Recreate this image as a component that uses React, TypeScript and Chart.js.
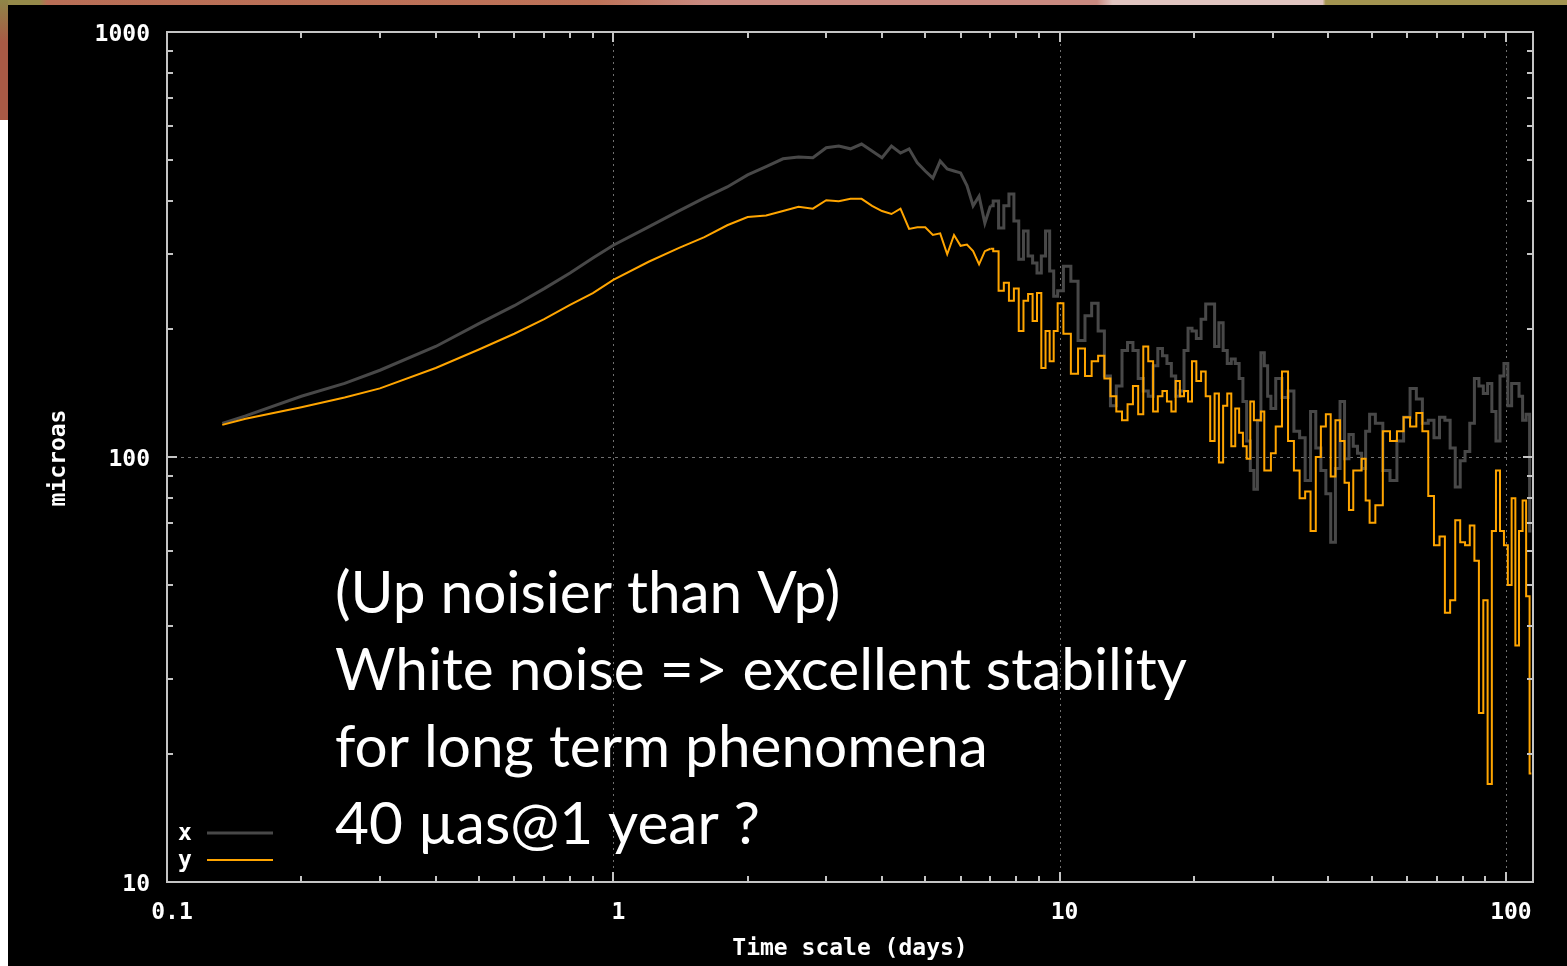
import { useEffect, useRef } from "react";
import { Chart, registerables } from "chart.js";

Chart.register(...registerables);

// Averaging time scale (days) shared by both series
const timeScaleDays = [
  0.133, 0.15, 0.2, 0.25, 0.3, 0.4, 0.5, 0.6, 0.7, 0.8, 0.9, 1.0, 1.2, 1.4, 1.6, 1.8, 2.0,
  2.2, 2.4, 2.6, 2.8, 3.0, 3.2, 3.4, 3.6, 3.8, 4.0, 4.2, 4.4, 4.6, 4.8, 5.0, 5.2, 5.4, 5.6, 5.8, 6.0,
  6.2, 6.4, 6.6, 6.8, 7.0, 7.2, 7.4, 7.6, 7.8, 8.0, 8.2, 8.4, 8.6, 8.8, 9.0, 9.2, 9.4, 9.6, 9.8, 10,
  10.4, 10.8, 11.2, 11.6, 12.0, 12.4, 12.8, 13.2, 13.6, 14.0, 14.4, 14.8, 15.2, 15.6, 16.0, 16.4,
  16.8, 17.2, 17.6, 18.0, 18.4, 18.8, 19.2, 19.6, 20,
  20.5, 21, 21.5, 22, 22.5, 23, 23.5, 24, 24.5, 25, 25.5, 26, 26.5, 27, 27.5, 28, 28.5, 29, 29.5, 30,
  31, 32, 33, 34, 35, 36, 37, 38, 39, 40, 41, 42, 43, 44, 45, 46, 47, 48, 49, 50,
  52, 54, 56, 58, 60, 62, 64, 66, 68, 70, 72, 74, 76, 78, 80, 82, 84, 86, 88, 90, 92, 94, 96, 98,
  100, 102, 104, 106, 108, 110, 112, 114,
];

// Allan-type deviation of the x component (microarcseconds)
const xMicroas = [
  120, 125, 139, 149, 160, 182, 206, 227, 249, 271, 294, 315, 348, 379, 407, 432, 461,
  482, 503, 508, 506, 534, 539, 531, 545, 525, 506, 539, 519, 531, 492, 471, 453, 497, 476, 471, 466,
  435, 390, 411, 355, 390, 400, 346, 390, 416, 359, 292, 340, 297, 286, 271, 297, 340, 274, 239, 246,
  281, 259, 188, 215, 230, 198, 155, 132, 147, 178, 186, 178, 153, 143, 139, 164,
  180, 173, 166, 155, 139, 143, 178, 201, 198,
  190, 211, 229, 229, 182, 207, 178, 166, 170, 166, 153, 135, 109, 93, 84, 122, 176, 164, 139, 130,
  153, 138, 143, 115, 111, 88, 128, 105, 93, 82, 63, 94, 135, 99, 113, 106, 102, 94, 115, 126,
  120, 93, 88, 109, 124, 145, 137, 120, 122, 111, 124, 122, 105, 85, 98, 103, 120, 153, 147, 141, 149, 128, 109, 155,
  166, 132, 149, 149, 139, 122, 126, 67,
];

// Allan-type deviation of the y component (microarcseconds)
const yMicroas = [
  119, 123, 131, 138, 145, 162, 179, 195, 211, 228, 243, 261, 288, 310, 329, 351, 367,
  370, 379, 388, 384, 402, 400, 405, 405, 390, 379, 373, 384, 344, 347, 347, 333, 336, 300, 333, 314,
  316, 305, 284, 305, 309, 305, 246, 257, 233, 249, 198, 233, 242, 209, 243, 162, 198, 168, 198, 230,
  195, 157, 180, 155, 168, 173, 153, 139, 128, 122, 133, 147, 126, 182, 168, 128,
  139, 143, 135, 128, 151, 139, 143, 135, 168,
  151, 159, 139, 109, 141, 97, 132, 141, 106, 130, 114, 106, 99, 135, 122, 122, 128, 93, 93, 102,
  118, 159, 109, 93, 80, 83, 67, 100, 118, 126, 90, 122, 109, 87, 75, 93, 93, 99, 79, 70,
  77, 115, 109, 115, 124, 118, 127, 115, 81, 62, 65, 43, 46, 71, 63, 62, 69, 57, 25, 46, 17, 67, 93, 67,
  62, 50, 80, 36, 67, 79, 47, 18,
];

// Beyond this time scale the curves are drawn as steps
const stepFromDays = 7.0;

const seriesNames = ["x", "y"];
const seriesColors = ["#484848", "#ffa500"];
const seriesWidths = [3, 2];

const xRange = [0.1, 115];
const yRange = [10, 1000];
const xTickValues = [0.1, 1, 10, 100];
const xTickLabels = ["0.1", "1", "10", "100"];
const yTickValues = [10, 100, 1000];
const yTickLabels = ["10", "100", "1000"];
const minorMultipliers = [2, 3, 4, 5, 6, 7, 8, 9];

const xAxisTitle = "Time scale (days)";
const yAxisTitle = "microas";

const noteLines = [
  "(Up noisier than Vp)",
  "White noise => excellent stability",
  "for long term phenomena",
  "40 µas@1 year ?",
];

const MONO = 'bold 23px "DejaVu Sans Mono", "Liberation Mono", monospace';
const FRAME_COLOR = "#c4c4c4";
const GRID_COLOR = "#707070";
const TEXT_COLOR = "#ffffff";

function minorValues(majors: number[], max: number): number[] {
  const out: number[] = [];
  for (const m of majors) {
    for (const k of minorMultipliers) {
      const v = m * k;
      if (v < max) out.push(v);
    }
  }
  return out;
}

const gnuplotFrame = {
  id: "gnuplotFrame",
  beforeDatasetsDraw(chart: any) {
    const { ctx, chartArea: a, scales } = chart;
    ctx.save();
    ctx.strokeStyle = GRID_COLOR;
    ctx.lineWidth = 1;
    ctx.setLineDash([2, 4]);
    for (const v of xTickValues) {
      if (v <= xRange[0] || v >= xRange[1]) continue;
      const px = Math.round(scales.x.getPixelForValue(v)) + 0.5;
      ctx.beginPath();
      ctx.moveTo(px, a.top);
      ctx.lineTo(px, a.bottom);
      ctx.stroke();
    }
    ctx.setLineDash([3, 4]);
    for (const v of yTickValues) {
      if (v <= yRange[0] || v >= yRange[1]) continue;
      const py = Math.round(scales.y.getPixelForValue(v)) + 0.5;
      ctx.beginPath();
      ctx.moveTo(a.left, py);
      ctx.lineTo(a.right, py);
      ctx.stroke();
    }
    ctx.restore();
  },
  afterDatasetsDraw(chart: any) {
    const { ctx, chartArea: a, scales } = chart;
    ctx.save();

    // frame
    ctx.strokeStyle = FRAME_COLOR;
    ctx.lineWidth = 2;
    ctx.setLineDash([]);
    ctx.strokeRect(a.left, a.top, a.right - a.left, a.bottom - a.top);

    // inward ticks on all four sides
    const MAJOR = 10;
    const MINOR = 6;
    const tick = (x1: number, y1: number, x2: number, y2: number) => {
      ctx.beginPath();
      ctx.moveTo(x1, y1);
      ctx.lineTo(x2, y2);
      ctx.stroke();
    };
    const xMinor = minorValues(xTickValues, xRange[1]);
    const yMinor = minorValues(yTickValues, yRange[1]);
    for (const [vals, len] of [[xTickValues, MAJOR], [xMinor, MINOR]] as [number[], number][]) {
      for (const v of vals) {
        if (v < xRange[0] || v > xRange[1]) continue;
        const px = Math.round(scales.x.getPixelForValue(v));
        tick(px, a.bottom, px, a.bottom - len);
        tick(px, a.top, px, a.top + len);
      }
    }
    for (const [vals, len] of [[yTickValues, MAJOR], [yMinor, MINOR]] as [number[], number][]) {
      for (const v of vals) {
        if (v < yRange[0] || v > yRange[1]) continue;
        const py = Math.round(scales.y.getPixelForValue(v));
        tick(a.left, py, a.left + len, py);
        tick(a.right, py, a.right - len, py);
      }
    }

    // tick labels
    ctx.fillStyle = TEXT_COLOR;
    ctx.font = MONO;
    ctx.textBaseline = "alphabetic";
    ctx.textAlign = "right";
    yTickValues.forEach((v, i) => {
      const py = scales.y.getPixelForValue(v);
      ctx.fillText(yTickLabels[i], a.left - 17, py + 9);
    });
    ctx.textAlign = "center";
    xTickValues.forEach((v, i) => {
      const px = scales.x.getPixelForValue(v);
      ctx.fillText(xTickLabels[i], px + 5, a.bottom + 37);
    });

    // axis titles
    ctx.fillText(xAxisTitle, (a.left + a.right) / 2, a.bottom + 73);
    ctx.save();
    ctx.translate(65, (a.top + a.bottom) / 2 + 1);
    ctx.rotate(-Math.PI / 2);
    ctx.textAlign = "center";
    ctx.fillText(yAxisTitle, 0, 0);
    ctx.restore();

    // key in the lower-left corner
    ctx.textAlign = "center";
    seriesNames.forEach((name, i) => {
      const yk = a.bottom - 49 + i * 27;
      ctx.fillStyle = TEXT_COLOR;
      ctx.fillText(name, a.left + 18, yk + 7);
      ctx.strokeStyle = seriesColors[i];
      ctx.lineWidth = seriesWidths[i];
      tick(a.left + 40, yk, a.left + 106, yk);
    });

    // annotation
    ctx.font = '100px Lato, "Open Sans", sans-serif';
    const widest = Math.max(...noteLines.map((s) => ctx.measureText(s).width));
    const size = (100 * 852) / widest;
    ctx.font = `${size.toFixed(1)}px Lato, "Open Sans", sans-serif`;
    ctx.textAlign = "left";
    ctx.fillStyle = TEXT_COLOR;
    noteLines.forEach((line, i) => {
      ctx.fillText(line, 335, 613 + i * 77);
    });

    ctx.restore();
  },
};

export default function App() {
  const canvasRef = useRef<HTMLCanvasElement>(null);

  useEffect(() => {
    const canvas = canvasRef.current;
    if (!canvas) return;
    const series = [xMicroas, yMicroas];
    const splitIndex = timeScaleDays.findIndex((t) => t >= stepFromDays);
    const datasets: any[] = [];
    series.forEach((vals, i) => {
      const points = timeScaleDays.map((t, j) => ({ x: t, y: vals[j] }));
      const common = {
        label: seriesNames[i],
        borderColor: seriesColors[i],
        borderWidth: seriesWidths[i],
        pointRadius: 0,
        tension: 0,
        fill: false,
        order: i === 0 ? 1 : 0,
      };
      // smooth rise, drawn as a polyline
      datasets.push({ ...common, data: points.slice(0, splitIndex + 1) });
      // noisy tail, drawn as steps
      datasets.push({ ...common, data: points.slice(splitIndex), stepped: "middle" });
    });
    const chart = new Chart(canvas, {
      type: "line",
      data: { datasets },
      options: {
        responsive: false,
        animation: false,
        events: [],
        layout: { padding: { left: 167, top: 32, right: 34, bottom: 84 } },
        scales: {
          x: { type: "logarithmic", min: xRange[0], max: xRange[1], display: false },
          y: { type: "logarithmic", min: yRange[0], max: yRange[1], display: false },
        },
        plugins: {
          legend: { display: false },
          tooltip: { enabled: false },
          title: { display: false },
        },
      },
      plugins: [gnuplotFrame],
    } as any);
    return () => chart.destroy();
  }, []);

  return (
    <div
      style={{
        position: "absolute",
        left: 0,
        top: 0,
        width: 1567,
        height: 966,
        overflow: "hidden",
        background: "#ffffff",
      }}
    >
      <div
        style={{
          position: "absolute",
          left: 0,
          top: 0,
          width: 1567,
          height: 5,
          background:
            "linear-gradient(to right, #958a4a 0%, #958a4a 2.5%, #b86e56 3%, #bd7258 38%, #c98a80 45%, #c98a80 70%, #e0c4c0 71%, #e0c4c0 84.4%, #a39450 84.6%, #a39450 100%)",
        }}
      />
      <div
        style={{
          position: "absolute",
          left: 0,
          top: 0,
          width: 8,
          height: 120,
          background: "linear-gradient(to bottom, #8f8648 0%, #a85a45 35%, #a85a45 100%)",
        }}
      />
      <div
        style={{
          position: "absolute",
          left: 8,
          top: 5,
          width: 1559,
          height: 961,
          background: "#000000",
        }}
      />
      <canvas
        ref={canvasRef}
        width={1567}
        height={966}
        style={{ position: "absolute", left: 0, top: 0 }}
      />
    </div>
  );
}
